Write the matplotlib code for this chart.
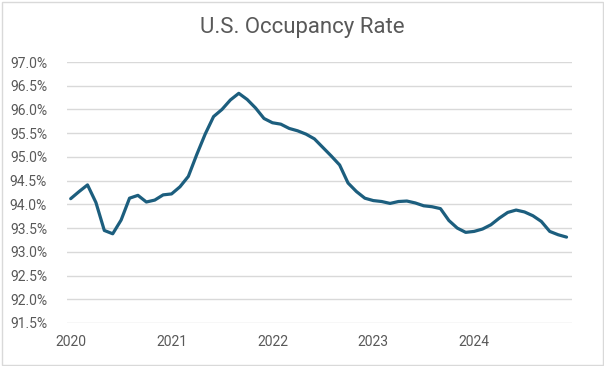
import matplotlib
matplotlib.use("Agg")
import matplotlib.pyplot as plt
from matplotlib.patches import Rectangle
from matplotlib.ticker import FuncFormatter

plt.rcParams['font.family'] = ['Roboto', 'DejaVu Sans']

# monthly occupancy, Jan 2020 .. Dec 2024
occupancy = [
    94.12, 94.27, 94.41, 94.04, 93.45, 93.38, 93.67, 94.13, 94.19, 94.05, 94.09, 94.20,
    94.22, 94.37, 94.59, 95.05, 95.48, 95.85, 96.00, 96.20, 96.34, 96.21, 96.03, 95.81,
    95.72, 95.69, 95.60, 95.55, 95.48, 95.38, 95.20, 95.02, 94.83, 94.45, 94.27, 94.13,
    94.08, 94.06, 94.02, 94.06, 94.07, 94.03, 93.97, 93.95, 93.91, 93.66, 93.50, 93.41,
    93.43, 93.48, 93.57, 93.71, 93.83, 93.88, 93.84, 93.76, 93.64, 93.43, 93.36, 93.31,
]
year_labels = ['2020', '2021', '2022', '2023', '2024']
y_ticks = [91.5 + 0.5 * k for k in range(12)]

gray = '#595959'

fig = plt.figure(figsize=(6.04, 3.66), dpi=100)
ax = fig.add_axes([66.5 / 604, 1 - 323 / 366, (572 - 66.5) / 604, (323 - 62) / 366])

ax.plot(range(len(occupancy)), occupancy, color='#1c5e7e', linewidth=2.3,
        solid_joinstyle='round', solid_capstyle='round', zorder=3)

ax.set_ylim(91.5, 97.0)
ax.set_xlim(-0.5, len(occupancy) - 0.35)
ax.set_yticks(y_ticks)
ax.yaxis.set_major_formatter(FuncFormatter(lambda v, p: f'{v:.1f}%'))
ax.set_xticks(range(0, len(occupancy), 12))
ax.set_xticklabels(year_labels)

ax.grid(axis='y', color='#d9d9d9', linewidth=1.0)
ax.set_axisbelow(True)
for s in ax.spines.values():
    s.set_visible(False)
ax.tick_params(length=0, labelsize=10, labelcolor=gray)
ax.tick_params(axis='y', pad=14)
ax.tick_params(axis='x', pad=9)

fig.text(0.5, 1 - 28 / 366, 'U.S. Occupancy Rate', ha='center', va='center',
         fontsize=16, color=gray)

fig.patches.append(Rectangle((1.5 / 604, 1.5 / 366), 1 - 3 / 604, 1 - 3 / 366,
                             transform=fig.transFigure, fill=False,
                             edgecolor='#d9d9d9', linewidth=1.0))

fig.savefig('out.png', dpi=100)
